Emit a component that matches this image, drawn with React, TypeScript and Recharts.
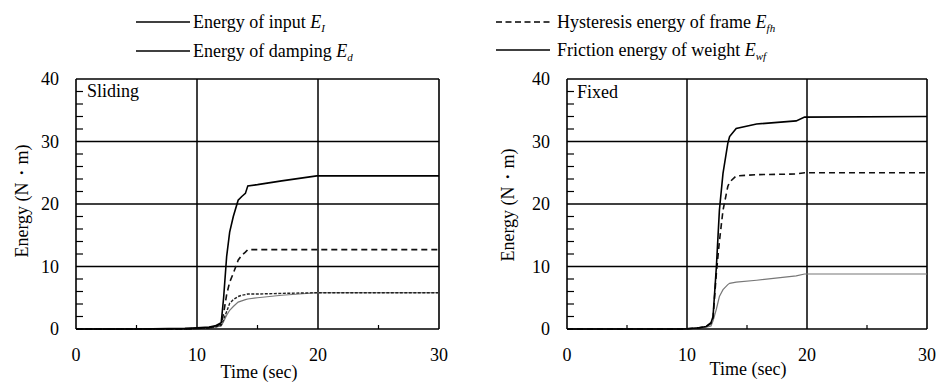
import { LineChart, Line, XAxis, YAxis, ReferenceLine } from 'recharts'

// Sliding panel (time in sec, energy in N·m)
const SLIDING_TIME = [0, 5, 9, 10, 11, 11.5, 12, 12.2, 12.45, 12.7, 13.0, 13.4, 13.7, 14.0, 14.2, 15.0, 17.0, 19.9, 30]
const SLIDING_INPUT = [0, 0, 0.1, 0.2, 0.3, 0.5, 1.0, 5.0, 11.6, 15.5, 18.0, 20.6, 21.2, 21.7, 22.9, 23.1, 23.7, 24.5, 24.5]
const SLIDING_HYST = [0, 0, 0, 0.1, 0.2, 0.4, 0.8, 2.5, 5.5, 7.5, 8.9, 11.0, 11.8, 12.3, 12.7, 12.7, 12.7, 12.7, 12.7]
const SLIDING_FRICTION = [0, 0, 0, 0.1, 0.2, 0.3, 0.6, 1.5, 2.8, 4.1, 4.7, 5.2, 5.4, 5.5, 5.6, 5.6, 5.7, 5.8, 5.8]
const SLIDING_DAMPING = [0, 0, 0, 0.1, 0.2, 0.3, 0.5, 1.2, 2.2, 3.0, 3.6, 4.3, 4.5, 4.7, 4.8, 5.0, 5.4, 5.8, 5.8]

// Fixed panel
const FIXED_TIME = [0, 9.5, 10, 11, 11.6, 12.0, 12.17, 12.45, 12.7, 13.0, 13.4, 13.55, 14.1, 15.8, 19.1, 19.8, 30]
const FIXED_INPUT = [0, 0, 0.05, 0.2, 0.4, 1.0, 2.0, 10.0, 19.0, 24.9, 29.7, 30.8, 32.1, 32.8, 33.3, 33.9, 34.0]
const FIXED_HYST = [0, 0, 0.05, 0.2, 0.4, 0.9, 1.8, 9.0, 14.0, 19.0, 22.8, 23.5, 24.5, 24.7, 24.8, 25.0, 25.0]
const FIXED_DAMPING = [0, 0, 0.05, 0.15, 0.3, 0.5, 1.3, 3.2, 5.2, 6.3, 7.1, 7.3, 7.5, 7.8, 8.5, 8.8, 8.8]

const Y_TICKS = [0, 2, 4, 6, 8, 10, 12, 14, 16, 18, 20, 22, 24, 26, 28, 30, 32, 34, 36, 38, 40]
const Y_LABELS = [0, 10, 20, 30, 40]
const X_TICKS = [0, 5, 10, 15, 20, 25, 30]
const X_LABELS = [0, 10, 20, 30]
const GRID_X = [10, 20]
const GRID_Y = [10, 20, 30]

const FONT = "'Liberation Serif', 'DejaVu Serif', serif"
const FS = 18
const TXT = { fontFamily: FONT, fontSize: FS }

const STYLES: Record<string, any> = {
  input: { stroke: '#000', strokeWidth: 1.6 },
  hyst: { stroke: '#111', strokeWidth: 1.6, strokeDasharray: '6 4' },
  friction: { stroke: '#222', strokeWidth: 1.4, strokeDasharray: '3 1.5' },
  damping: { stroke: '#777', strokeWidth: 1.2 },
}

function XTick(props: any) {
  const { x, y, payload } = props
  const base = y - 19
  if (X_LABELS.includes(payload.value)) {
    return (
      <text x={x} y={y} dy="0.71em" textAnchor="middle" style={TXT} fill="#000">
        {payload.value}
      </text>
    )
  }
  return <line x1={x} x2={x} y1={base} y2={base - 4} stroke="#000" strokeWidth={1.2} />
}

function YTick(props: any) {
  const { x, y, payload } = props
  const axisX = x + 17
  if (Y_LABELS.includes(payload.value)) {
    return (
      <text x={x} y={y} dy="0.35em" textAnchor="end" style={TXT} fill="#000">
        {payload.value}
      </text>
    )
  }
  return <line x1={axisX} x2={axisX + 7} y1={y} y2={y} stroke="#000" strokeWidth={1.2} />
}

function Panel({ data, keys, yWidth, right }: { data: any[]; keys: string[]; yWidth: number; right: number }) {
  return (
    <LineChart width={470} height={383} data={data} margin={{ top: 79, right, bottom: 0, left: 0 }}>
      <XAxis
        dataKey="t"
        type="number"
        domain={[0, 30]}
        ticks={X_TICKS}
        interval={0}
        height={54}
        tickSize={0}
        tickMargin={19}
        tick={<XTick />}
        axisLine={{ stroke: '#000', strokeWidth: 1.6 }}
      />
      <YAxis
        type="number"
        domain={[0, 40]}
        ticks={Y_TICKS}
        interval={0}
        width={yWidth}
        tickSize={0}
        tickMargin={17}
        tick={<YTick />}
        axisLine={{ stroke: '#000', strokeWidth: 1.6 }}
      />
      {GRID_Y.map((v) => (
        <ReferenceLine key={`gy-${v}`} y={v} stroke="#000" strokeWidth={1.5} />
      ))}
      {GRID_X.map((v) => (
        <ReferenceLine key={`gx-${v}`} x={v} stroke="#000" strokeWidth={1.5} />
      ))}
      <ReferenceLine y={40} stroke="#000" strokeWidth={1.6} />
      <ReferenceLine x={30} stroke="#000" strokeWidth={1.6} />
      {keys.map((k) => (
        <Line key={k} dataKey={k} type="linear" dot={false} activeDot={false} isAnimationActive={false} {...STYLES[k]} />
      ))}
    </LineChart>
  )
}

function Sub({ main, sub }: { main: string; sub: string }) {
  return (
    <>
      <tspan fontStyle="italic">{main}</tspan>
      <tspan fontStyle="italic" style={{ fontSize: 11 }} dy={4}>{sub}</tspan>
    </>
  )
}

export default function App() {
  const sliding = SLIDING_TIME.map((t, i) => ({
    t,
    input: SLIDING_INPUT[i],
    hyst: SLIDING_HYST[i],
    friction: SLIDING_FRICTION[i],
    damping: SLIDING_DAMPING[i],
  }))
  const fixed = FIXED_TIME.map((t, i) => ({
    t,
    input: FIXED_INPUT[i],
    hyst: FIXED_HYST[i],
    damping: FIXED_DAMPING[i],
  }))

  const text = { style: TXT, fill: '#000' }

  return (
    <div style={{ position: 'absolute', left: 0, top: 0, width: 940, height: 383, background: '#fff', overflow: 'hidden', fontFamily: FONT }}>
      <div style={{ position: 'absolute', left: 0, top: 0 }}>
        <Panel data={sliding} keys={['damping', 'friction', 'hyst', 'input']} yWidth={76} right={31} />
      </div>
      <div style={{ position: 'absolute', left: 470, top: 0 }}>
        <Panel data={fixed} keys={['damping', 'hyst', 'input']} yWidth={97} right={13} />
      </div>
      <svg width={940} height={383} style={{ position: 'absolute', left: 0, top: 0, pointerEvents: 'none' }}>
        {/* legend */}
        <line x1={136} x2={190} y1={22} y2={22} stroke="#000" strokeWidth={1.6} />
        <text x={193} y={28} {...text}>
          Energy of input <Sub main="E" sub="I" />
        </text>
        <line x1={136} x2={190} y1={51} y2={51} stroke="#000" strokeWidth={1.6} />
        <text x={193} y={57} {...text}>
          Energy of damping <Sub main="E" sub="d" />
        </text>
        <line x1={496} x2={550} y1={22} y2={22} stroke="#000" strokeWidth={1.6} strokeDasharray="6 3.5" />
        <text x={557} y={28} {...text}>
          Hysteresis energy of frame <Sub main="E" sub="fh" />
        </text>
        <line x1={496} x2={550} y1={50} y2={50} stroke="#000" strokeWidth={1.6} />
        <text x={557} y={56} {...text}>
          Friction energy of weight <Sub main="E" sub="wf" />
        </text>

        {/* panel labels */}
        <text x={87} y={97} {...text}>Sliding</text>
        <text x={577} y={98} {...text}>Fixed</text>

        {/* axis titles */}
        <text x={22} y={201} transform="rotate(-90 22 201)" textAnchor="middle" dominantBaseline="central" {...text}>
          Energy (N・m)
        </text>
        <text x={508} y={205} transform="rotate(-90 508 205)" textAnchor="middle" dominantBaseline="central" {...text}>
          Energy (N・m)
        </text>
        <text x={259} y={378} textAnchor="middle" {...text}>Time (sec)</text>
        <text x={748} y={375} textAnchor="middle" {...text}>Time (sec)</text>
      </svg>
    </div>
  )
}
